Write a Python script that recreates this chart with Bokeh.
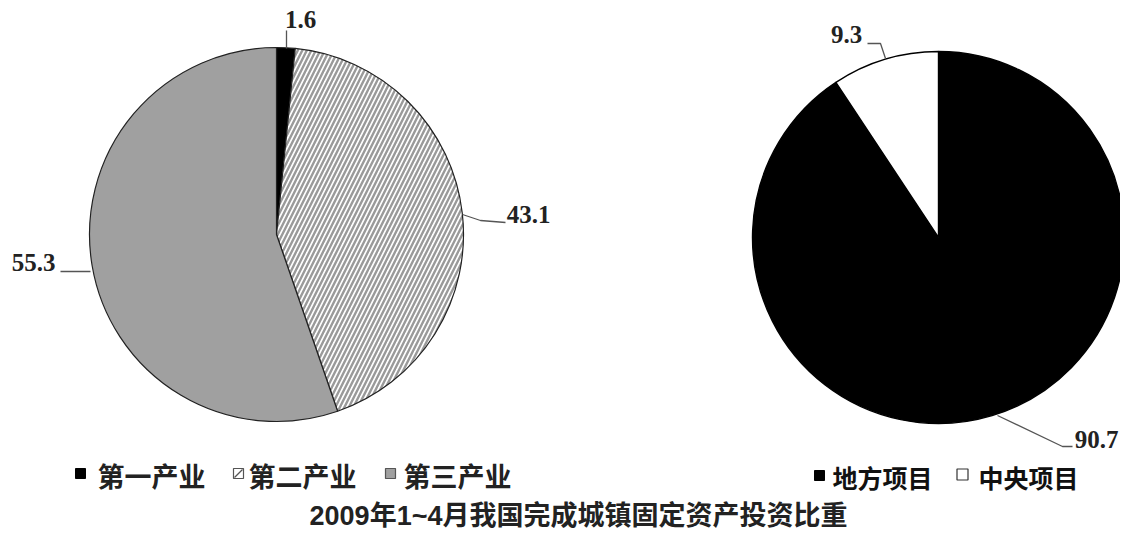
import numpy as np
from bokeh.plotting import figure
from bokeh.core.properties import value
from bokeh.embed import file_html
from bokeh.resources import INLINE

# ---- data ----
left_categories = ["第一产业", "第二产业", "第三产业"]
left_values = [1.6, 43.1, 55.3]
right_categories = ["地方项目", "中央项目"]
right_values = [90.7, 9.3]
title_text = "2009年1~4月我国完成城镇固定资产投资比重"

W, H = 1120, 529
p = figure(width=W, height=H, x_range=(0, W), y_range=(0, H),
           output_backend="svg", toolbar_location=None, min_border=0,
           x_axis_location=None, y_axis_location=None)
p.grid.visible = False
p.outline_line_color = None
p.background_fill_color = "white"
p.border_fill_color = "white"


def X(xs):
    return [float(v) for v in xs]


def Y(ys):
    return [H - v for v in ys]


def angles(vals):
    vals = np.asarray(vals, dtype=float)
    frac = vals / vals.sum()
    cum = np.concatenate([[0], np.cumsum(frac)])
    start = np.pi / 2 - 2 * np.pi * cum[:-1]
    end = np.pi / 2 - 2 * np.pi * cum[1:]
    return start, end


GRAY = "#a0a0a0"

# left pie
ls, le = angles(left_values)
lcx, lcy, lr = X([276])[0], Y([234])[0], 187
left_fill = ["black", "white", GRAY]
left_hatch = [None, "/", None]
for i in range(len(left_values)):
    kw = {}
    if left_hatch[i]:
        kw = dict(hatch_pattern=left_hatch[i], hatch_color="#9a9a9a",
                  hatch_scale=9, hatch_weight=2.4)
    p.wedge(x=[lcx], y=[lcy], radius=lr, start_angle=[ls[i]], end_angle=[le[i]],
            direction="clock", fill_color=left_fill[i], line_color="#222222",
            line_width=1.2, **kw)

# right pie
rs, re_ = angles(right_values)
rcx, rcy, rr = X([938])[0], Y([237])[0], 186
right_fill = ["black", "white"]
for i in range(len(right_values)):
    p.wedge(x=[rcx], y=[rcy], radius=rr, start_angle=[rs[i]], end_angle=[re_[i]],
            direction="clock", fill_color=right_fill[i], line_color="black",
            line_width=1.4)

# leader lines
leaders = [
    ([286, 286], [48, 30]),
    ([462, 480, 505], [214, 220, 222]),
    ([90, 60], [271, 271]),
    ([885, 880, 867], [58, 43, 43]),
    ([997, 1062, 1072], [415, 446, 446]),
]
for xs, ys in leaders:
    p.line(X(xs), Y(ys), line_color="#555555", line_width=1.3)

# value labels
lab_x = [300, 528, 33, 846, 1096]
lab_y = [19, 214, 262, 34, 439]
lab_t = [f"{v}" for v in [left_values[0], left_values[1], left_values[2],
                          right_values[1], right_values[0]]]
p.text(x=X(lab_x), y=Y(lab_y), text=lab_t, text_font=value("Liberation Serif"),
       text_font_style="bold", text_font_size="25px", text_color="#222222",
       text_align="center", text_baseline="middle")

# legends
leg_font = value("Noto Sans CJK SC")
# left legend
p.rect(x=X([80]), y=Y([473]), width=10, height=10, fill_color="black", line_color="black")
p.rect(x=X([238]), y=Y([473]), width=10, height=10, fill_color="white", line_color="#555555",
       line_width=1.2)
p.line(X([234, 242]), Y([477, 469]), line_color="#555555", line_width=1.2)
p.rect(x=X([390]), y=Y([473]), width=10, height=10, fill_color=GRAY, line_color="#555555",
       line_width=1.2)
p.text(x=X([97, 248, 403]), y=Y([475, 475, 475]), text=left_categories,
       text_font=leg_font, text_font_style="bold", text_font_size="27px",
       text_color="#222222", text_align="left", text_baseline="middle")
# right legend
p.rect(x=X([819]), y=Y([475]), width=10, height=10, fill_color="black", line_color="black")
p.rect(x=X([962]), y=Y([474]), width=11, height=11, fill_color="white", line_color="#333333",
       line_width=1.2)
p.text(x=X([832, 978]), y=Y([476, 476]), text=right_categories,
       text_font=leg_font, text_font_style="bold", text_font_size="25px",
       text_color="#111111", text_align="left", text_baseline="middle")

# title
p.text(x=X([578]), y=Y([515]), text=[title_text],
       text_font=value("Liberation Sans, Noto Sans CJK SC"), text_font_style="bold",
       text_font_size="27px", text_color="#222222", text_align="center",
       text_baseline="middle")

open("out.html", "w").write(file_html(p, INLINE))
